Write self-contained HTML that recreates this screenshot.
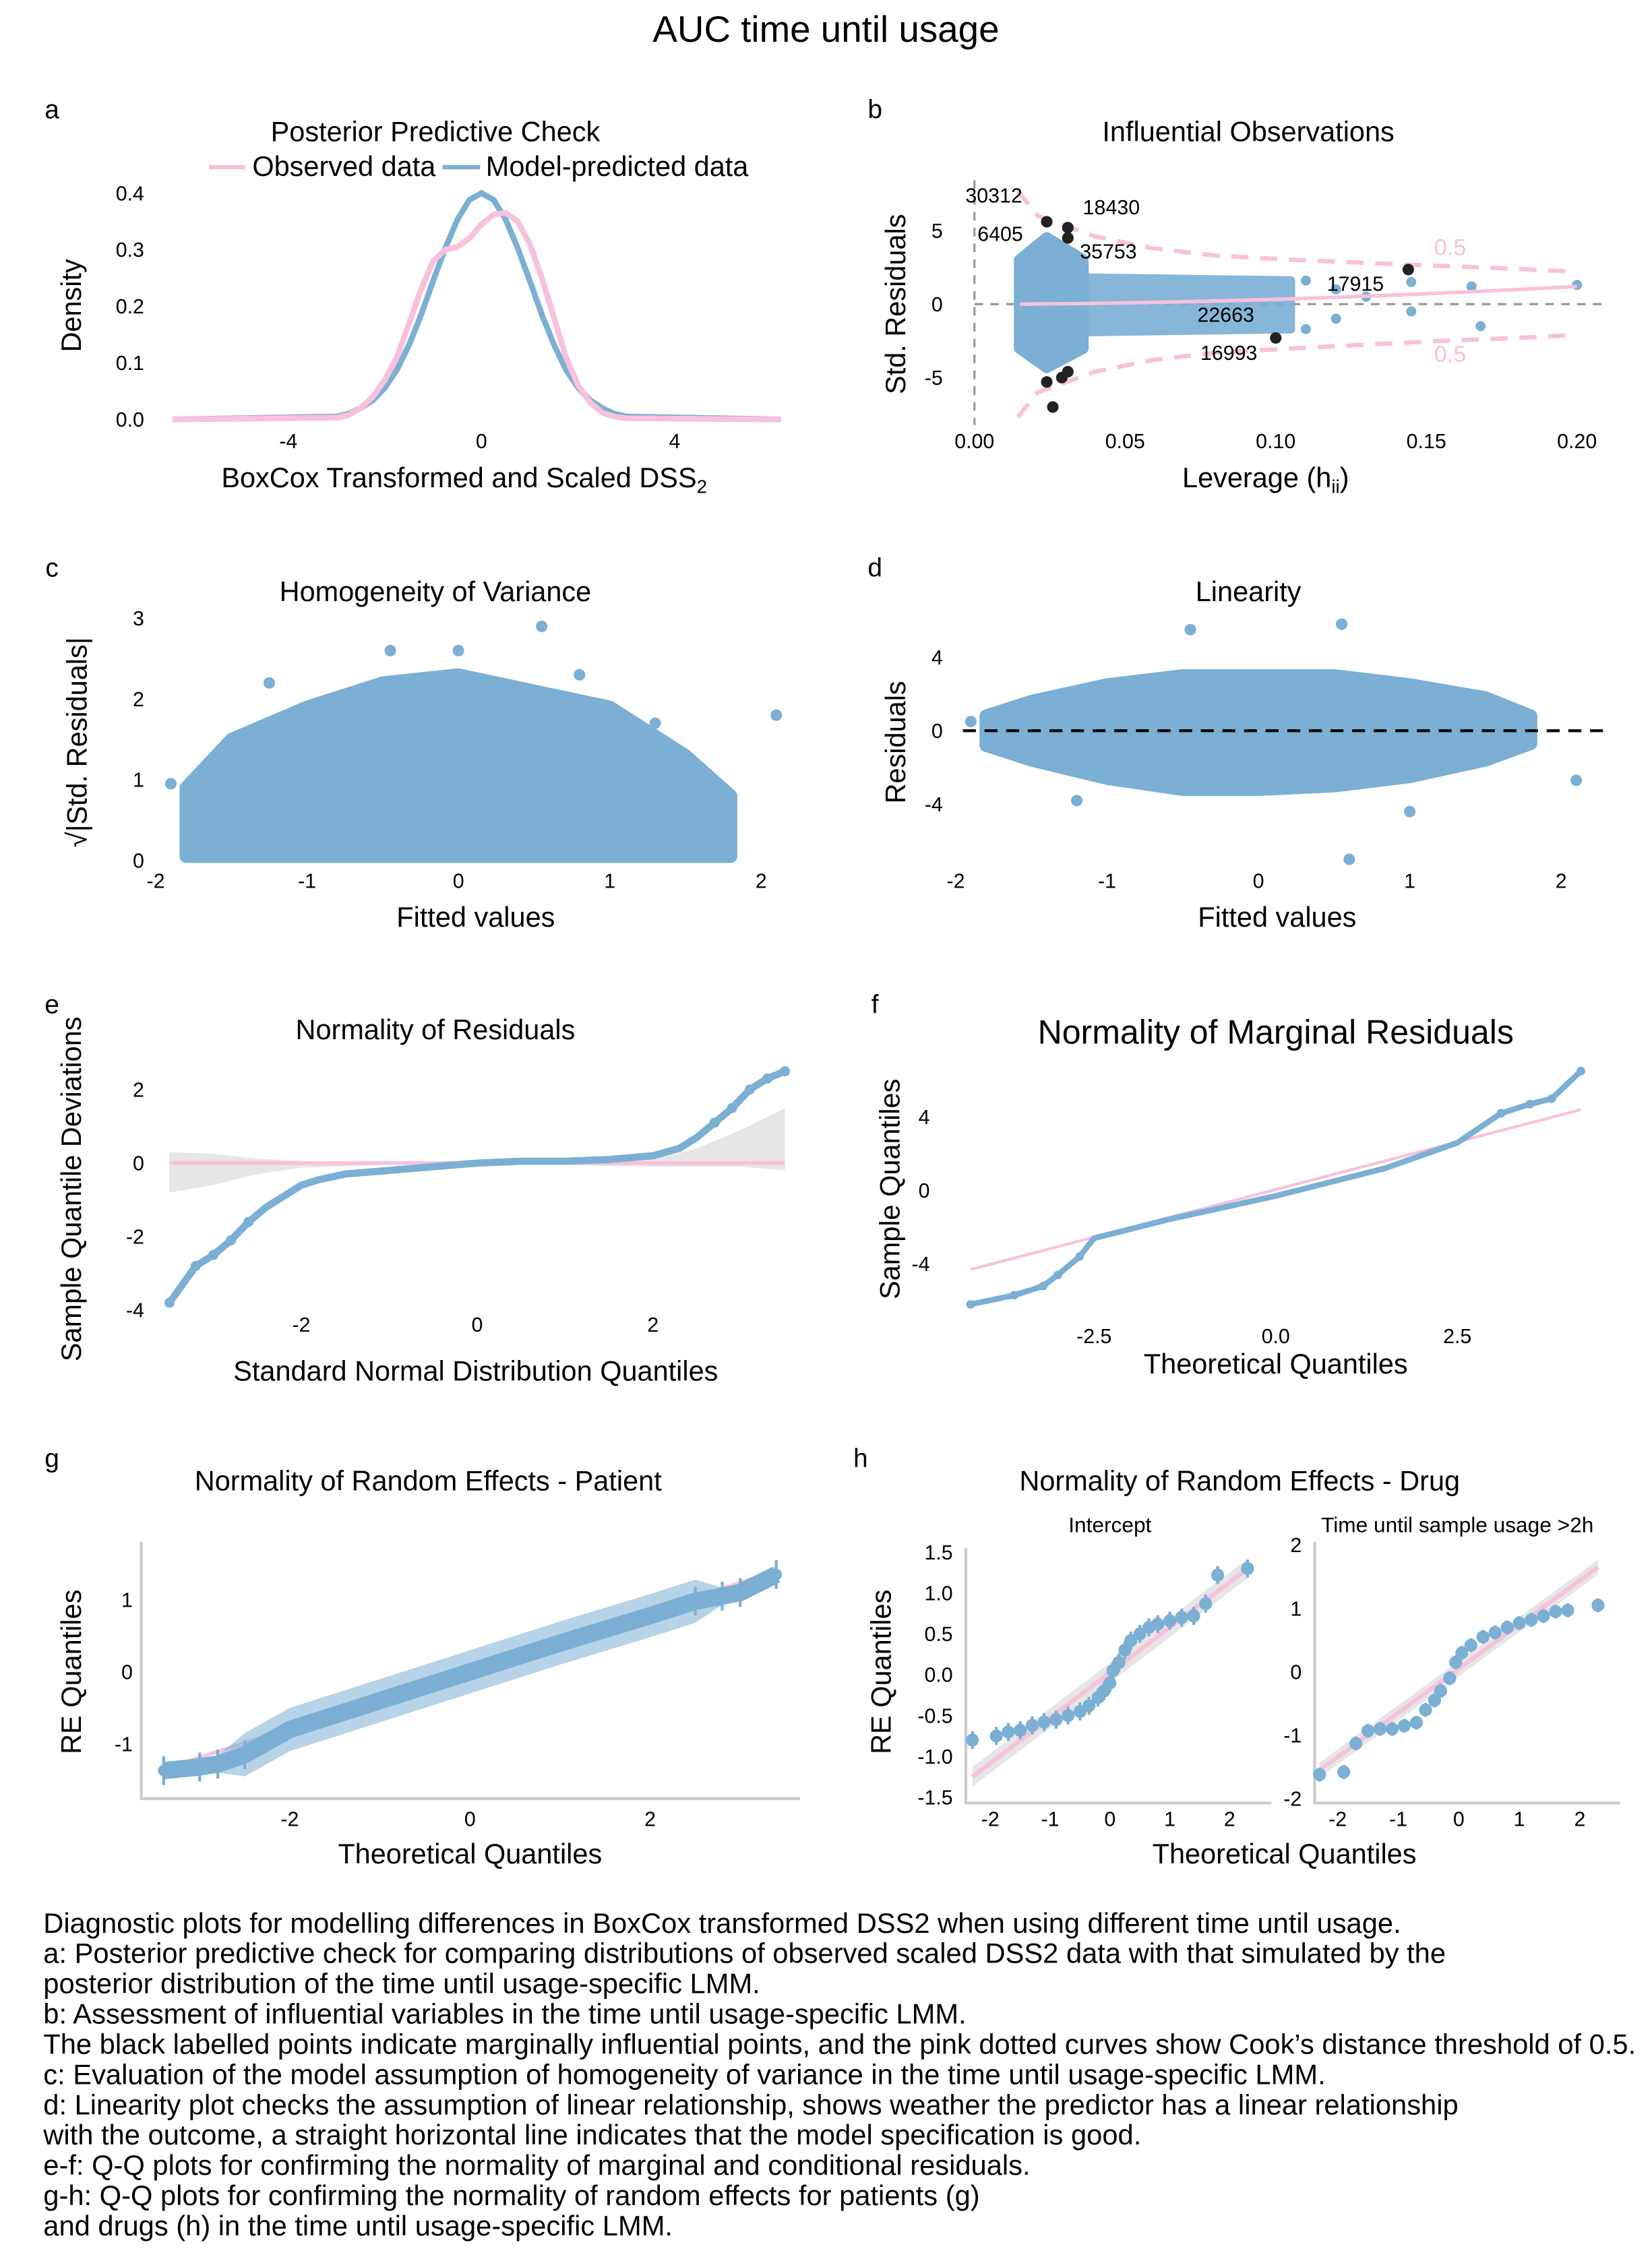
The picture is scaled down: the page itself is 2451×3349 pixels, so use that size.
<!DOCTYPE html>
<html><head><meta charset="utf-8"><title>AUC time until usage</title>
<style>html,body{margin:0;padding:0;background:#fff}svg{display:block}text{font-family:"Liberation Sans",Arial,sans-serif;fill:#000}</style></head>
<body>
<svg id="root" xmlns="http://www.w3.org/2000/svg" width="2451" height="3349" viewBox="0 0 1146 1566"></svg>
<script>
// ---- data ----
const aX=[-6.4,-3,-2.75,-2.5,-2.25,-2,-1.75,-1.5,-1.25,-1,-0.75,-0.5,-0.25,0,0.25,0.5,0.75,1,1.25,1.5,1.75,2,2.25,2.5,2.75,3,6.2];
const aBlue=[0,0.005,0.01,0.02,0.034,0.056,0.088,0.132,0.185,0.245,0.303,0.353,0.388,0.400,0.388,0.353,0.303,0.245,0.185,0.132,0.088,0.056,0.034,0.02,0.01,0.005,0];
const aPink=[0,0.003,0.008,0.02,0.04,0.07,0.11,0.17,0.23,0.28,0.30,0.305,0.32,0.345,0.362,0.365,0.35,0.31,0.25,0.18,0.11,0.06,0.03,0.012,0.005,0.002,0];
const aXTicks=[-4,0,4], aYTicks=[0,0.1,0.2,0.3,0.4], aYLab=["0.0","0.1","0.2","0.3","0.4"];
const bCookH=[0.0144,0.021,0.04,0.059,0.08,0.107,0.13,0.155,0.18,0.2];
const bCookUp=[7.7,6.0,4.6,3.8,3.3,3.0,2.8,2.6,2.4,2.2];
const bCookLo=[-7.7,-6.0,-4.6,-3.8,-3.3,-3.0,-2.75,-2.5,-2.3,-2.1];
const bPtH=[0.12,0.12,0.13,0.145,0.145,0.165,0.168,0.2,0.11,0.11];
const bPtR=[1,-1,0.5,1.5,-0.5,1.2,-1.5,1.3,1.6,-1.7];
const bInfH=[0.024,0.031,0.031,0.144,0.1,0.024,0.031,0.029,0.026];
const bInfR=[5.6,5.2,4.5,2.35,-2.3,-5.3,-4.6,-5.0,-7.0];
const bLabels=[["30312",-0.003,6.9],["18430",0.036,6.1],["6405",0.001,4.3],["35753",0.035,3.1],["17915",0.117,0.9],["22663",0.074,-1.2],["16993",0.075,-3.8]];
const bXTicks=[0,0.05,0.1,0.15,0.2], bXLab=["0.00","0.05","0.10","0.15","0.20"], bYTicks=[-5,0,5];
const cX=[-1.8,-1.5,-1,-0.5,0,0.5,1,1.5,1.8], cTop=[0.9,1.5,1.9,2.2,2.3,2.1,1.9,1.3,0.8];
const cOutX=[-1.9,2.1,0.55,-0.45,0,0.8,-1.25,1.3,1.7], cOutY=[0.95,1.8,2.9,2.6,2.6,2.3,2.2,1.7,0.5];
const dX=[-1.8,-1.5,-1,-0.5,0,0.5,1,1.5,1.8], dTop=[0.8,1.6,2.5,3,3,3,2.5,1.8,0.8], dBot=[-0.8,-1.6,-2.6,-3.2,-3.2,-3,-2.5,-1.6,-0.7];
const dOutX=[2.1,0.55,-0.45,0.6,1,-1.2,1.7,-1.9], dOutY=[-2.7,5.8,5.5,-7,-4.4,-3.8,-0.6,0.5];
const eX=[-3.5,-3.2,-3,-2.8,-2.6,-2.4,-2.2,-2,-1.8,-1.5,-1,-0.5,0,0.5,1,1.5,2,2.3,2.5,2.7,2.9,3.1,3.3,3.5];
const eY=[-3.8,-2.8,-2.5,-2.1,-1.6,-1.2,-0.9,-0.6,-0.45,-0.3,-0.2,-0.1,0,0.05,0.05,0.1,0.2,0.4,0.7,1.1,1.5,2.0,2.3,2.5];
const eBandX=[-3.5,-3,-2.5,-2,-1,0,1,2,2.5,3,3.5], eBandUp=[0.3,0.25,0.12,0.05,0.03,0.03,0.03,0.1,0.4,0.9,1.5], eBandLo=[-0.8,-0.6,-0.3,-0.12,-0.05,-0.03,-0.05,-0.1,-0.1,-0.1,-0.2];
const fX=[-4.2,-3.6,-3.2,-3.0,-2.7,-2.5,-1.5,0,1.5,2.5,3.1,3.5,3.8,4.2], fY=[-6.2,-5.7,-5.2,-4.6,-3.6,-2.6,-1.6,-0.3,1.2,2.6,4.2,4.7,5.0,6.5];
const gX=[-3.4,-3,-2.8,-2.5,-2,-1,0,1,2,2.5,2.8,3,3.4], gY=[-1.37,-1.32,-1.28,-1.15,-0.8,-0.4,0.0,0.4,0.78,0.98,1.05,1.1,1.35];
const hIX=[-2.3,-1.9,-1.7,-1.5,-1.3,-1.1,-0.9,-0.7,-0.5,-0.35,-0.2,-0.1,0,0.05,0.15,0.25,0.35,0.5,0.65,0.8,1,1.2,1.4,1.6,1.8,2.3];
const hIY=[-0.8,-0.75,-0.7,-0.68,-0.62,-0.58,-0.55,-0.5,-0.45,-0.38,-0.28,-0.2,-0.1,0.05,0.15,0.3,0.42,0.5,0.58,0.62,0.66,0.7,0.72,0.87,1.22,1.3];
const hTX=[-2.3,-1.9,-1.7,-1.5,-1.3,-1.1,-0.9,-0.7,-0.55,-0.4,-0.3,-0.15,-0.05,0.05,0.2,0.4,0.6,0.8,1,1.2,1.4,1.6,1.8,2.3];
const hTY=[-1.62,-1.58,-1.13,-0.93,-0.9,-0.9,-0.85,-0.8,-0.6,-0.45,-0.3,-0.1,0.15,0.3,0.42,0.55,0.62,0.7,0.77,0.82,0.88,0.95,0.97,1.05];
const caption=["Diagnostic plots for modelling differences in BoxCox transformed DSS2 when using different time until usage.","a: Posterior predictive check for comparing distributions of observed scaled DSS2 data with that simulated by the","posterior distribution of the time until usage-specific LMM.","b: Assessment of influential variables in the time until usage-specific LMM.","The black labelled points indicate marginally influential points, and the pink dotted curves show Cook\u2019s distance threshold of 0.5.","c: Evaluation of the model assumption of homogeneity of variance in the time until usage-specific LMM.","d: Linearity plot checks the assumption of linear relationship, shows weather the predictor has a linear relationship","with the outcome, a straight horizontal line indicates that the model specification is good.","e-f: Q-Q plots for confirming the normality of marginal and conditional residuals.","g-h: Q-Q plots for confirming the normality of random effects for patients (g)","and drugs (h)  in the time until usage-specific LMM."];

// ---- helpers ----
const NS="http://www.w3.org/2000/svg", root=document.getElementById('root');
const BLUE="#7bafd4", PINK="#f8c1dc", FS=1.14;
function mk(tag,attrs,parent){const e=document.createElementNS(NS,tag);for(const k in attrs)e.setAttribute(k,attrs[k]);(parent||root).appendChild(e);return e;}
function txt(s,x,y,size,anchor,name,parent,rot){const t=mk('text',{x:x,y:y,'font-size':(size*FS).toFixed(1),'text-anchor':anchor||'middle'},parent);if(rot)t.setAttribute('transform','rotate(-90 '+x+' '+y+')');t.textContent=s;


return t;}
function lin(d0,d1,r0,r1){return v=>r0+(v-d0)*(r1-r0)/(d1-d0);}
function grp(name){const g=mk('g',{});


return g;}
function pathOf(xs,ys,sx,sy){return xs.map((x,i)=>(i?'L':'M')+sx(x).toFixed(1)+','+sy(ys[i]).toFixed(1)).join('');}
function band(xs,up,lo,sx,sy){return pathOf(xs,up,sx,sy)+xs.slice().reverse().map((x,i)=>'L'+sx(x).toFixed(1)+','+sy(lo[lo.length-1-i]).toFixed(1)).join('')+'Z';}
function dot(x,y,r,fill,parent,name){const c=mk('circle',{cx:x,cy:y,r:r,fill:fill},parent);


return c;}
const TT=17, AT=17, TK=12.5;

txt("AUC time until usage",573,29,22.5,'middle','figure-title');

// ---- a ----
(function(){const g=grp('panel-a');const sx=lin(0,4,334,468),sy=lin(0,0.4,291,134);
txt("a",36,82,16,'middle','panel-label-a',g);txt("Posterior Predictive Check",302,98,TT,'middle','panel-a-title',g);
mk('line',{x1:145,y1:116,x2:170,y2:116,stroke:PINK,'stroke-width':3},g);txt("Observed data",175,122,TT,'start','legend-observed',g);
mk('line',{x1:307,y1:116,x2:333,y2:116,stroke:BLUE,'stroke-width':3},g);txt("Model-predicted data",337,122,TT,'start','legend-predicted',g);
const pb=mk('path',{d:pathOf(aX,aBlue,sx,sy),fill:'none',stroke:BLUE,'stroke-width':4},g);
const pp=mk('path',{d:pathOf(aX,aPink,sx,sy),fill:'none',stroke:PINK,'stroke-width':4},g);
aXTicks.forEach(v=>txt(String(v),sx(v),311,TK,'middle','x-tick',g));
aYTicks.forEach((v,i)=>txt(aYLab[i],100,sy(v)+5,TK,'end','y-tick',g));
txt("Density",56,212,AT,'middle','y-axis-title',g,true);
const t=txt("BoxCox Transformed and Scaled DSS",322,338,AT,'middle','x-axis-title',g);const s=mk('tspan',{'font-size':13,dy:4},t);s.textContent="2";})();

// ---- b ----
(function(){const g=grp('panel-b');const sx=lin(0,0.2,676,1094),sy=lin(0,5,211,160);
txt("b",607,82,16,'middle','panel-label-b',g);txt("Influential Observations",866,98,TT,'middle','panel-b-title',g);
mk('line',{x1:676,y1:125,x2:676,y2:295,stroke:'#999','stroke-dasharray':'6,5','stroke-width':1.5},g);
mk('line',{x1:676,y1:211,x2:1115,y2:211,stroke:'#999','stroke-dasharray':'6,5','stroke-width':1.5},g);
const c1=mk('path',{d:'M'+sx(0.015)+','+sy(3)+'L'+sx(0.024)+','+sy(4.5)+'L'+sx(0.036)+','+sy(3)+'L'+sx(0.036)+','+sy(-3)+'L'+sx(0.024)+','+sy(-4.3)+'L'+sx(0.015)+','+sy(-3)+'Z',fill:BLUE,stroke:BLUE,'stroke-width':8,'stroke-linejoin':'round'},g);
const c2=mk('path',{d:'M'+sx(0.036)+','+sy(1.8)+'L'+sx(0.105)+','+sy(1.6)+'L'+sx(0.105)+','+sy(-1.7)+'L'+sx(0.036)+','+sy(-1.9)+'Z',fill:BLUE,stroke:BLUE,'stroke-width':6,'stroke-linejoin':'round',opacity:0.9},g);
bPtH.forEach((h,i)=>dot(sx(h),sy(bPtR[i]),3.5,BLUE,g,'observation-point'));
mk('path',{d:'M'+sx(0.015)+','+sy(0)+'Q'+sx(0.1)+','+sy(0.1)+' '+sx(0.2)+','+sy(1.2),fill:'none',stroke:PINK,'stroke-width':2.5},g);
[bCookUp,bCookLo].forEach(a=>{const p=mk('path',{d:pathOf(bCookH,a,sx,sy),fill:'none',stroke:PINK,'stroke-width':3,'stroke-dasharray':'12,8'},g);});
txt("0.5",1006,177,14,'middle','cook-label',g).setAttribute('style','fill:'+PINK);
txt("0.5",1006,251,14,'middle','cook-label',g).setAttribute('style','fill:'+PINK);
bInfH.forEach((h,i)=>dot(sx(h),sy(bInfR[i]),4,'#222',g,'influential-point'));
bLabels.forEach(l=>txt(l[0],sx(l[1]),sy(l[2]),TK,'start','point-label',g));
bXTicks.forEach((v,i)=>txt(bXLab[i],sx(v),311,TK,'middle','x-tick',g));
bYTicks.forEach(v=>txt(String(v),654,sy(v)+5,TK,'end','y-tick',g));
txt("Std. Residuals",628,211,AT,'middle','y-axis-title',g,true);
const t=txt("Leverage (h",878,338,AT,'middle','x-axis-title',g);const s=mk('tspan',{'font-size':13,dy:4},t);s.textContent="ii";const s2=mk('tspan',{dy:-4},t);s2.textContent=")";})();

// ---- c ----
(function(){const g=grp('panel-c');const sx=lin(0,2,318,528),sy=lin(0,3,597,429);
txt("c",36,400,16,'middle','panel-label-c',g);txt("Homogeneity of Variance",302,417,TT,'middle','panel-c-title',g);
const p=mk('path',{d:band(cX,cTop,cX.map(()=>0.05),sx,sy),fill:BLUE,stroke:BLUE,'stroke-width':9,'stroke-linejoin':'round'},g);
cOutX.forEach((x,i)=>dot(sx(x),sy(cOutY[i]),4,BLUE,g,'outlier-point'));
[-2,-1,0,1,2].forEach(v=>txt(String(v),sx(v),616,TK,'middle','x-tick',g));
[0,1,2,3].forEach(v=>txt(String(v),100,sy(v)+5,TK,'end','y-tick',g));
txt("\u221A|Std. Residuals|",60,515,AT,'middle','y-axis-title',g,true);
txt("Fitted values",330,643,AT,'middle','x-axis-title',g);})();

// ---- d ----
(function(){const g=grp('panel-d');const sx=lin(0,2,873,1083),sy=lin(0,4,507,456);
txt("d",607,400,16,'middle','panel-label-d',g);txt("Linearity",866,417,TT,'middle','panel-d-title',g);
const p=mk('path',{d:band(dX,dTop,dBot,sx,sy),fill:BLUE,stroke:BLUE,'stroke-width':9,'stroke-linejoin':'round'},g);
dOutX.forEach((x,i)=>dot(sx(x),sy(dOutY[i]),4,BLUE,g,'outlier-point'));
mk('line',{x1:668,y1:507,x2:1115,y2:507,stroke:'#000','stroke-width':2,'stroke-dasharray':'9,6'},g);
[-2,-1,0,1,2].forEach(v=>txt(String(v),sx(v),616,TK,'middle','x-tick',g));
[-4,0,4].forEach(v=>txt(String(v),654,sy(v)+5,TK,'end','y-tick',g));
txt("Residuals",628,515,AT,'middle','y-axis-title',g,true);
txt("Fitted values",886,643,AT,'middle','x-axis-title',g);})();

// ---- e ----
(function(){const g=grp('panel-e');const sx=lin(0,2,331,453),sy=lin(0,2,807,756);
txt("e",36,703,16,'middle','panel-label-e',g);txt("Normality of Residuals",302,721,TT,'middle','panel-e-title',g);
mk('path',{d:band(eBandX,eBandUp,eBandLo,sx,sy),fill:'#e6e6e6'},g);
mk('line',{x1:sx(-3.5),y1:sy(0),x2:sx(3.5),y2:sy(0),stroke:PINK,'stroke-width':2.5},g);
const p=mk('path',{d:pathOf(eX,eY,sx,sy),fill:'none',stroke:BLUE,'stroke-width':5,'stroke-linecap':'round','stroke-linejoin':'round'},g);
eX.forEach((x,i)=>{if(Math.abs(x)>2.5)dot(sx(x),sy(eY[i]),3.5,BLUE,g,'quantile-point');});
[-2,0,2].forEach(v=>txt(String(v),sx(v),924,TK,'middle','x-tick',g));
[-4,-2,0,2].forEach(v=>txt(String(v),100,sy(v)+5,TK,'end','y-tick',g));
txt("Sample Quantile Deviations",56,825,AT,'middle','y-axis-title',g,true);
txt("Standard Normal Distribution Quantiles",330,958,AT,'middle','x-axis-title',g);})();

// ---- f ----
(function(){const g=grp('panel-f');const sx=lin(0,2.5,885,1011),sy=lin(0,4,826,775);
txt("f",607,703,16,'middle','panel-label-f',g);txt("Normality of Marginal Residuals",885,724,20.5,'middle','panel-f-title',g);
mk('line',{x1:sx(-4.2),y1:sy(-4.3),x2:sx(4.2),y2:sy(4.4),stroke:PINK,'stroke-width':2},g);
const p=mk('path',{d:pathOf(fX,fY,sx,sy),fill:'none',stroke:BLUE,'stroke-width':4,'stroke-linejoin':'round'},g);
fX.forEach((x,i)=>{if(Math.abs(x)>2.6)dot(sx(x),sy(fY[i]),3,BLUE,g,'quantile-point');});
[[-2.5,"-2.5"],[0,"0.0"],[2.5,"2.5"]].forEach(v=>txt(v[1],sx(v[0]),932,TK,'middle','x-tick',g));
[-4,0,4].forEach(v=>txt(String(v),645,sy(v)+5,TK,'end','y-tick',g));
txt("Sample Quantiles",624,825,AT,'middle','y-axis-title',g,true);
txt("Theoretical Quantiles",885,953,AT,'middle','x-axis-title',g);})();

// ---- g ----
(function(){const g=grp('panel-g');const sx=lin(0,2,326,451),sy=lin(0,1,1160,1110);
txt("g",36,1018,16,'middle','panel-label-g',g);txt("Normality of Random Effects - Patient",297,1034,TT,'middle','panel-g-title',g);
mk('path',{d:'M98,1070V1248H555',fill:'none',stroke:'#ccc','stroke-width':2},g);
mk('line',{x1:sx(-3.4),y1:sy(-1.35),x2:sx(3.4),y2:sy(1.4),stroke:PINK,'stroke-width':2.5},g);
const up=gY.map((y,i)=>y+(Math.abs(gX[i])<2.6?0.3:0.12)), lo=gY.map((y,i)=>y-(Math.abs(gX[i])<2.6?0.3:0.12));
const b=mk('path',{d:band(gX,up,lo,sx,sy),fill:BLUE,opacity:0.55},g);
const p=mk('path',{d:pathOf(gX,gY,sx,sy),fill:'none',stroke:BLUE,'stroke-width':12,'stroke-linejoin':'round'},g);
gX.forEach((x,i)=>{if(Math.abs(x)>2.4){mk('line',{x1:sx(x),y1:sy(gY[i]+0.2),x2:sx(x),y2:sy(gY[i]-0.2),stroke:BLUE,'stroke-width':2},g);dot(sx(x),sy(gY[i]),4,BLUE,g,'re-point');}});
[-2,0,2].forEach(v=>txt(String(v),sx(v),1267,TK,'middle','x-tick',g));
[-1,0,1].forEach(v=>txt(String(v),92,sy(v)+5,TK,'end','y-tick',g));
txt("RE Quantiles",56,1160,AT,'middle','y-axis-title',g,true);
txt("Theoretical Quantiles",326,1293,AT,'middle','x-axis-title',g);})();

// ---- h ----
function drugPanel(name,title,xs,ys,x0,xspan,sy,yt,yl,line,tx){const g=grp(name);const sx=lin(0,2,x0,x0+xspan);
txt(title,tx,1063,13,'middle','facet-title',g);
mk('path',{d:'M'+(x0-100)+','+sy(yt[yt.length-1]+0.05)+'V1251H'+(x0+112),fill:'none',stroke:'#ccc','stroke-width':2},g);
mk('path',{d:'M'+sx(-2.3)+','+sy(line[0]-0.12)+'L'+sx(2.3)+','+sy(line[1]-0.12)+'L'+sx(2.3)+','+sy(line[1]+0.12)+'L'+sx(-2.3)+','+sy(line[0]+0.12)+'Z',fill:'#e6e6e6'},g);
mk('line',{x1:sx(-2.3),y1:sy(line[0]),x2:sx(2.3),y2:sy(line[1]),stroke:PINK,'stroke-width':3},g);
xs.forEach((x,i)=>{mk('line',{x1:sx(x),y1:sy(ys[i]+0.11),x2:sx(x),y2:sy(ys[i]-0.11),stroke:BLUE,'stroke-width':2},g);dot(sx(x),sy(ys[i]),4.5,BLUE,g,'re-point');});
[-2,-1,0,1,2].forEach(v=>txt(String(v),sx(v),1267,TK,'middle','x-tick',g));
yt.forEach((v,i)=>txt(yl[i],x0-109,sy(v)+5,TK,'end','y-tick',g));}
txt("h",597,1018,16,'middle','panel-label-h');txt("Normality of Random Effects - Drug",860,1034,TT,'middle','panel-h-title');
drugPanel('panel-h-intercept',"Intercept",hIX,hIY,770,83,lin(0,1.5,1162,1077),[-1.5,-1,-0.5,0,0.5,1,1.5],["-1.5","-1.0","-0.5","0.0","0.5","1.0","1.5"],[-1.25,1.3],770);
drugPanel('panel-h-time',"Time until sample usage >2h",hTX,hTY,1012,84,lin(0,2,1160,1072),[-2,-1,0,1,2],["-2","-1","0","1","2"],[-1.55,1.65],1011);
txt("RE Quantiles",618,1160,AT,'middle','y-axis-title',null,true);
txt("Theoretical Quantiles",891,1293,AT,'middle','x-axis-title');

// ---- caption ----
caption.forEach((s,i)=>txt(s,30,1341+i*21,17.1,'start','caption-line'));
</script>
</body></html>
